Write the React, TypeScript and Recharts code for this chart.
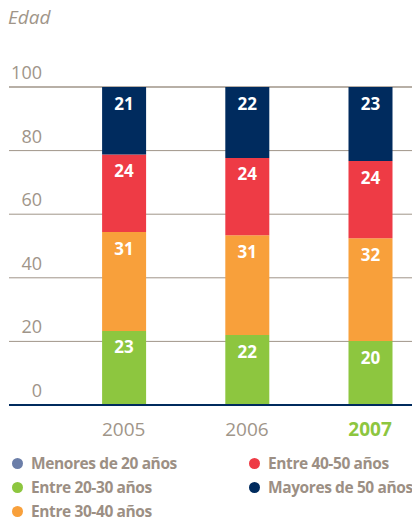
import React from 'react';
import { ComposedChart, Bar, XAxis, YAxis, CartesianGrid, LabelList } from 'recharts';

const years = ['2005', '2006', '2007'];
const menores20 = [0, 0, 0];
const entre20_30 = [23.3, 22.0, 20.1];
const entre30_40 = [31.1, 31.4, 32.3];
const entre40_50 = [24.4, 24.3, 24.3];
const mayores50 = [21.2, 22.3, 23.3];
const yTicks = [0, 20, 40, 60, 80, 100];

const seriesNames = ['Menores de 20 años', 'Entre 20-30 años', 'Entre 30-40 años', 'Entre 40-50 años', 'Mayores de 50 años'];
const seriesKeys = ['m20', 'e2030', 'e3040', 'e4050', 'm50'];
const seriesColors = ['#6b7ea8', '#8dc63f', '#f8a03b', '#ee3b45', '#002b5e'];

const data = years.map((y, i) => ({
  x: i,
  year: y,
  m20: menores20[i],
  e2030: entre20_30[i],
  e3040: entre30_40[i],
  e4050: entre40_50[i],
  m50: mayores50[i],
}));

const FONT = '"Open Sans", "Noto Sans", sans-serif';
const GREY = '#a09589';

const SegLabel = (props: any) => {
  const { x, y, width, height, value } = props;
  if (!value || height < 10) return null;
  return (
    <text x={x + width / 2} y={y + 16} fill="#ffffff" textAnchor="middle" dominantBaseline="central"
      style={{ fontFamily: FONT, fontWeight: 700, fontSize: 17 }}>
      {Math.round(value)}
    </text>
  );
};

const XTick = (props: any) => {
  const { x, y, payload } = props;
  const idx = payload.value as number;
  const last = idx === years.length - 1;
  return (
    <text x={x} y={y + 16} textAnchor="middle" dominantBaseline="central"
      fill={last ? '#8dc63f' : GREY}
      style={{ fontFamily: FONT, fontWeight: last ? 700 : 400, fontSize: 19 }}>
      {years[idx]}
    </text>
  );
};

const YTick = (props: any) => {
  const { y, payload } = props;
  return (
    <text x={34} y={y - 15} textAnchor="end" dominantBaseline="central" fill={GREY}
      style={{ fontFamily: FONT, fontWeight: 400, fontSize: 18 }}>
      {payload.value}
    </text>
  );
};

const legendOrder = [0, 3, 1, 4, 2];

export default function App() {
  return (
    <div style={{ position: 'relative', width: 412, fontFamily: FONT }}>
      <div style={{ position: 'absolute', left: 0, top: -4, fontStyle: 'italic', fontSize: 19, color: GREY }}>Edad</div>
      <ComposedChart width={412} height={437} data={data} margin={{ top: 79, right: 0, left: 0, bottom: 0 }}>
        <CartesianGrid horizontal vertical={false} stroke={GREY} strokeWidth={1} />
        <XAxis dataKey="x" type="number" domain={[-0.931, 2.405]} ticks={[0, 1, 2]} allowDataOverflow
          height={40} tick={<XTick />} tickLine={false} axisLine={{ stroke: '#002b5e', strokeWidth: 2 }} />
        <YAxis type="number" domain={[0, 100]} ticks={yTicks} width={1} tick={<YTick />} tickLine={false} axisLine={false} interval={0} />
        {seriesKeys.map((k, i) => (
          <Bar key={k} dataKey={k} name={seriesNames[i]} stackId="a" fill={seriesColors[i]} barSize={44} isAnimationActive={false}>
            <LabelList dataKey={k} content={<SegLabel />} />
          </Bar>
        ))}
      </ComposedChart>
      <div style={{ display: 'grid', gridTemplateColumns: '237px 175px', marginTop: 6, rowGap: 0 }}>
        {legendOrder.map((i) => (
          <div key={i} style={{ display: 'flex', alignItems: 'center', height: 24, color: '#9c8f84', fontWeight: 700, fontSize: 15.5, letterSpacing: -0.4, whiteSpace: 'nowrap' }}>
            <span style={{ display: 'inline-block', width: 11, height: 11, borderRadius: '50%', background: seriesColors[i], marginLeft: 4, marginRight: 8, flexShrink: 0 }} />
            {seriesNames[i]}
          </div>
        ))}
      </div>
    </div>
  );
}
